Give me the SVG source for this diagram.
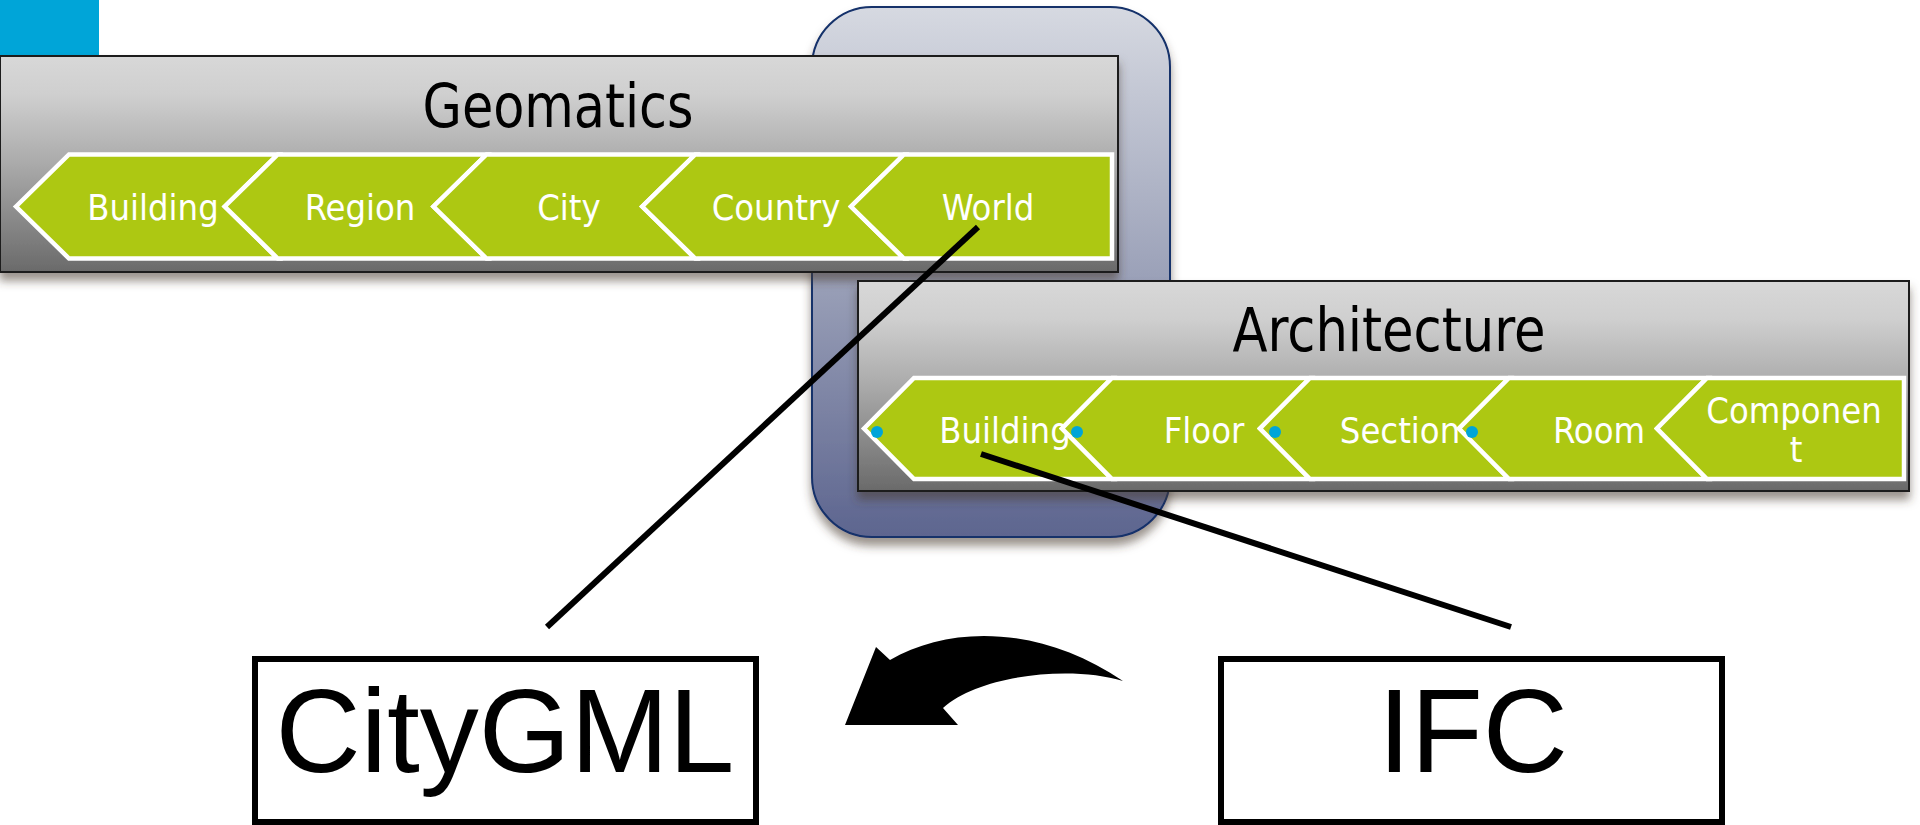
<svg xmlns="http://www.w3.org/2000/svg" width="1920" height="825" viewBox="0 0 1920 825">
  <defs>
    <linearGradient id="panelFill" x1="0" y1="0" x2="0" y2="1">
      <stop offset="0" stop-color="#d8d8d8"/>
      <stop offset="0.18" stop-color="#cfcfcf"/>
      <stop offset="0.5" stop-color="#aaaaaa"/>
      <stop offset="1" stop-color="#6a6a6a"/>
    </linearGradient>
    <linearGradient id="frameFill" x1="0" y1="0" x2="0" y2="1">
      <stop offset="0" stop-color="#d6d9e1"/>
      <stop offset="0.5" stop-color="#9ca2b9"/>
      <stop offset="1" stop-color="#5d658f"/>
    </linearGradient>
    <filter id="dropShadow" x="-5%" y="-10%" width="110%" height="130%">
      <feDropShadow dx="0" dy="8" stdDeviation="5" flood-color="#4a3a30" flood-opacity="0.55"/>
    </filter>
    <style>
      .panel { fill: url(#panelFill); stroke: #1a1a1a; stroke-width: 2; }
      .frame { fill: url(#frameFill); stroke: #12306a; stroke-width: 2; }
      .chev { fill: #adc812; stroke: #ffffff; stroke-width: 4.5; stroke-linejoin: miter; }
      .title { font-family: "DejaVu Sans Condensed", "DejaVu Sans", sans-serif; font-size: 60px; fill: #000000; text-anchor: middle; }
      .step { font-family: "DejaVu Sans Condensed", "DejaVu Sans", sans-serif; font-size: 36px; fill: #ffffff; text-anchor: middle; }
      .dot { fill: #00a5d8; }
      .fmt { fill: #ffffff; stroke: #000000; stroke-width: 6; }
      .fmtText { font-family: "Liberation Sans", Arial, sans-serif; font-size: 118px; fill: #000000; text-anchor: middle; }
      .link { stroke: #000000; stroke-width: 6; fill: none; }
    </style>
  </defs>

  <rect width="1920" height="825" fill="#ffffff"/>

  <!-- corner tab -->
  <g id="corner-tab">
    <rect x="0" y="0" width="99" height="56" fill="#00a5d8"/>
  </g>

  <!-- rounded frame joining both scales -->
  <g id="scale-overlap">
    <rect class="frame" x="812" y="7" width="358" height="530" rx="60" ry="60" filter="url(#dropShadow)"/>
  </g>

  <!-- Geomatics panel -->
  <g id="geomatics">
    <rect class="panel" x="0" y="56" width="1118" height="216" filter="url(#dropShadow)"/>
    <text class="title" x="558" y="127" textLength="271" lengthAdjust="spacingAndGlyphs">Geomatics</text>
    <g id="geo-building">
      <path class="chev" d="M16,206.5 L69,154.5 L277.75,154.5 L224.75,206.5 L277.75,258.5 L69,258.5 Z"/>
      <text class="step" x="153" y="220">Building</text>
    </g>
    <g id="geo-region">
      <path class="chev" d="M224.75,206.5 L277.75,154.5 L486.5,154.5 L433.5,206.5 L486.5,258.5 L277.75,258.5 Z"/>
      <text class="step" x="360" y="220">Region</text>
    </g>
    <g id="geo-city">
      <path class="chev" d="M433.5,206.5 L486.5,154.5 L695.25,154.5 L642.25,206.5 L695.25,258.5 L486.5,258.5 Z"/>
      <text class="step" x="569" y="220">City</text>
    </g>
    <g id="geo-country">
      <path class="chev" d="M642.25,206.5 L695.25,154.5 L904,154.5 L851,206.5 L904,258.5 L695.25,258.5 Z"/>
      <text class="step" x="776" y="220">Country</text>
    </g>
    <g id="geo-world">
      <path class="chev" d="M851,206.5 L904,154.5 L1112,154.5 L1112,258.5 L904,258.5 Z"/>
      <text class="step" x="988" y="220">World</text>
    </g>
  </g>

  <!-- Architecture panel -->
  <g id="architecture">
    <rect class="panel" x="858" y="281" width="1051" height="210" filter="url(#dropShadow)"/>
    <text class="title" x="1389" y="351" textLength="313" lengthAdjust="spacingAndGlyphs">Architecture</text>
    <g id="arch-building">
      <path class="chev" d="M864,428.5 L914,378 L1112,378 L1062,428.5 L1112,479 L914,479 Z"/>
      <text class="step" x="1005" y="443">Building</text>
      <circle class="dot" cx="877" cy="432" r="6"/>
    </g>
    <g id="arch-floor">
      <path class="chev" d="M1062,428.5 L1112,378 L1310,378 L1260,428.5 L1310,479 L1112,479 Z"/>
      <text class="step" x="1204" y="443">Floor</text>
      <circle class="dot" cx="1077" cy="432" r="6"/>
    </g>
    <g id="arch-section">
      <path class="chev" d="M1260,428.5 L1310,378 L1509,378 L1459,428.5 L1509,479 L1310,479 Z"/>
      <text class="step" x="1400" y="443">Section</text>
      <circle class="dot" cx="1275" cy="432" r="6"/>
    </g>
    <g id="arch-room">
      <path class="chev" d="M1459,428.5 L1509,378 L1707,378 L1657,428.5 L1707,479 L1509,479 Z"/>
      <text class="step" x="1599" y="443">Room</text>
      <circle class="dot" cx="1472" cy="432" r="6"/>
    </g>
    <g id="arch-component">
      <path class="chev" d="M1657,428.5 L1707,378 L1904,378 L1904,479 L1707,479 Z"/>
      <text class="step" x="1794" y="423">Componen</text>
      <text class="step" x="1796" y="462">t</text>
    </g>
  </g>

  <!-- exchange formats -->
  <g id="citygml">
    <rect class="fmt" x="255" y="659" width="501" height="163"/>
    <text class="fmtText" x="505" y="772">CityGML</text>
  </g>
  <g id="ifc">
    <rect class="fmt" x="1221" y="659" width="501" height="163"/>
    <text class="fmtText" x="1473" y="772">IFC</text>
  </g>

  <!-- conversion arrow IFC to CityGML -->
  <g id="conversion-arrow">
    <path fill="#000000" d="M845,725 L876,647 L890,660 C950,625 1040,625 1123,681 C1070,665 980,675 943,708 L958,725 Z"/>
  </g>

  <!-- mapping connectors -->
  <g id="connectors">
    <line class="link" x1="978" y1="227" x2="547" y2="627"/>
    <line class="link" x1="981" y1="454" x2="1511" y2="627"/>
  </g>
</svg>
